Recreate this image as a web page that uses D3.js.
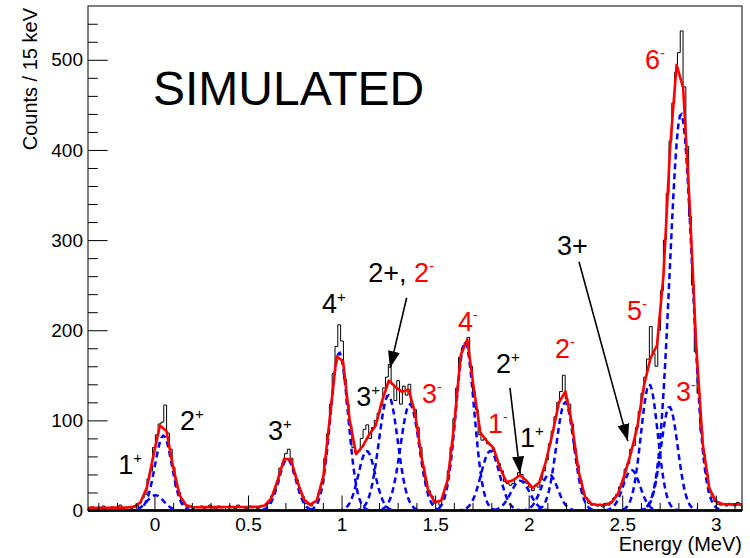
<!DOCTYPE html>
<html>
<head>
<meta charset="utf-8">
<script src="https://cdn.jsdelivr.net/npm/d3@7"></script>
<style>
  body { margin: 0; background: #fff; }
  text { font-family: "Liberation Sans", Arial, Helvetica, sans-serif; }
</style>
</head>
<body>
<svg id="chart" width="750" height="558"></svg>
<script>
// Spectrum: counts per 15 keV bin, first bin starting at -0.355 MeV
const binStart = -0.355;
const binWidth = 0.015;
const counts = [
  2,4,1,3,2,5,3,1,4,2,3,6,2,3,
  4,2,5,4,9,14,18,35,44,70,84,96,98,117,86,68,48,26,20,9,7,3,5,
  2,4,3,5,2,4,6,3,2,5,3,4,1,5,3,2,6,4,3,2,5,3,4,2,
  4,5,6,8,16,21,30,47,52,63,68,58,42,34,20,16,8,7,
  5,9,10,20,30,58,85,118,152,182,206,188,146,118,94,70,64,66,80,90,95,
  80,92,100,108,116,136,148,162,140,122,144,118,138,128,140,118,112,92,70,48,32,22,16,8,10,6,
  14,26,44,70,102,136,170,180,186,192,160,132,112,84,78,80,74,72,66,58,52,44,32,30,28,30,36,42,40,32,30,26,22,28,
  26,34,44,56,74,88,104,120,132,150,124,118,96,68,50,34,18,14,8,6,7,5,7,4,8,6,10,14,18,26,30,46,52,68,72,92,110,130,148,168,
  204,174,160,200,244,300,352,410,452,486,508,532,470,404,326,250,176,130,88,62,40,20,14,10,7,6,
  7,5,8,6,5,9,6
];

// Fitted peak components: centroid (MeV), height (counts), sigma (MeV)
const peakCentroids = [0.005, 0.048, 0.71, 0.988, 1.135, 1.25, 1.365, 1.66, 1.795, 1.955, 2.11, 2.195, 2.55, 2.645, 2.752, 2.814];
const peakHeights   = [17, 83, 57, 175, 66, 128, 118, 187, 66, 33, 40, 120, 45, 140, 115, 440];
const peakSigmas    = [0.045, 0.045, 0.045, 0.047, 0.045, 0.05, 0.05, 0.048, 0.05, 0.05, 0.045, 0.047, 0.045, 0.045, 0.045, 0.06];
// Linear background of the total fit: a + b*E
const background = [3.4, 1.1];

const xTickValues = [0, 0.5, 1, 1.5, 2, 2.5, 3];
const yTickValues = [0, 100, 200, 300, 400, 500];

// Spin-parity labels: [text, colour, superscript?] pieces, anchored at (E, counts)
const stateLabels = [
  { E: -0.193, c: 40,  parts: [["1", "k"], ["+", "k", 1]] },
  { E: 0.137,  c: 89,  parts: [["2", "k"], ["+", "k", 1]] },
  { E: 0.607,  c: 78,  parts: [["3", "k"], ["+", "k", 1]] },
  { E: 0.896,  c: 219, parts: [["4", "k"], ["+", "k", 1]] },
  { E: 1.078,  c: 116, parts: [["3", "k"], ["+", "k", 1]] },
  { E: 1.142,  c: 254, parts: [["2+, ", "k"], ["2", "r"], ["-", "r", 1]] },
  { E: 1.430,  c: 119, parts: [["3", "r"], ["-", "r", 1]] },
  { E: 1.622,  c: 199, parts: [["4", "r"], ["-", "r", 1]] },
  { E: 1.783,  c: 86,  parts: [["1", "r"], ["-", "r", 1]] },
  { E: 1.825,  c: 153, parts: [["2", "k"], ["+", "k", 1]] },
  { E: 1.954,  c: 71,  parts: [["1", "k"], ["+", "k", 1]] },
  { E: 2.140,  c: 169, parts: [["2", "r"], ["-", "r", 1]] },
  { E: 2.151,  c: 284, parts: [["3+", "k"]] },
  { E: 2.525,  c: 211, parts: [["5", "r"], ["-", "r", 1]] },
  { E: 2.787,  c: 122, parts: [["3", "r"], ["-", "r", 1]] },
  { E: 2.621,  c: 490, parts: [["6", "r"], ["-", "r", 1]] }
];

// Pointer arrows: from (E0, c0) to tip (E1, c1)
const arrows = [
  [1.348, 236, 1.259, 158],
  [1.900, 136, 1.954, 41],
  [2.269, 276, 2.530, 77]
];

const colours = { k: "#000000", r: "#ff0000" };

const svg = d3.select("#chart");
const x = d3.scaleLinear().domain([binStart, binStart + binWidth * 233]).range([88, 742]);
const y = d3.scaleLinear().domain([0, 559.7]).range([510.5, 6]);
const [x0, x1] = x.domain();

// Histogram as a stepped outline
const histPts = [[x(x0), y(0)]];
counts.forEach((v, i) => {
  const lo = x0 + i * binWidth, hi = lo + binWidth;
  histPts.push([x(lo), y(v)], [x(hi), y(v)]);
});
histPts.push([x(x1), y(0)]);
svg.append("path")
  .attr("d", d3.line()(histPts))
  .attr("fill", "none").attr("stroke", "#000").attr("stroke-width", 1);

const gauss = (E, k) => peakHeights[k] * Math.exp(-((E - peakCentroids[k]) ** 2) / (2 * peakSigmas[k] ** 2));
const total = E => background[0] + background[1] * E + peakCentroids.reduce((s, _, k) => s + gauss(E, k), 0);

// Individual components, dashed blue
const fine = d3.range(0, 401).map(i => x0 + (x1 - x0) * i / 400);
peakCentroids.forEach((_, k) => {
  svg.append("path")
    .attr("d", d3.line().x(E => x(E)).y(E => y(gauss(E, k)))(fine))
    .attr("fill", "none").attr("stroke", "#0000ff").attr("stroke-width", 2.5)
    .attr("stroke-dasharray", "6,4").attr("stroke-dashoffset", k * 2.7);
});

// Total fit, red
const coarse = d3.range(0, 101).map(i => x0 + (x1 - x0) * i / 100);
svg.append("path")
  .attr("d", d3.line().x(E => x(E)).y(E => y(total(E)))(coarse))
  .attr("fill", "none").attr("stroke", "#ff0000").attr("stroke-width", 2.6)
  .attr("stroke-linejoin", "round");

// Axes with inward ticks
svg.append("g").attr("transform", "translate(88,0)")
  .call(d3.axisLeft(y).tickValues(yTickValues).tickSizeInner(-19.6).tickSizeOuter(0).tickPadding(5).tickFormat(d3.format("d")));
svg.append("g").attr("transform", "translate(88,0)")
  .call(d3.axisLeft(y).tickValues(d3.range(20, 559, 20).filter(v => v % 100)).tickSizeInner(-9.8).tickSizeOuter(0).tickFormat(""));
svg.append("g").attr("transform", "translate(0,510.5)")
  .call(d3.axisBottom(x).tickValues(xTickValues).tickSizeInner(-15).tickSizeOuter(0).tickPadding(7).tickFormat(d => String(d)));
svg.append("g").attr("transform", "translate(0,510.5)")
  .call(d3.axisBottom(x).tickValues(d3.range(-3, 32).map(v => v / 10).filter(v => Math.round(v * 10) % 5)).tickSizeInner(-7.5).tickSizeOuter(0).tickFormat(""));
svg.selectAll(".domain").remove();
svg.selectAll(".tick line").attr("stroke", "#000").attr("stroke-width", 1);
svg.selectAll(".tick text").attr("font-size", 19).attr("fill", "#000")
  .attr("font-family", '"Liberation Sans", Arial, Helvetica, sans-serif');

// Frame
svg.append("rect").attr("x", 88).attr("y", 6).attr("width", 654).attr("height", 504.5)
  .attr("fill", "none").attr("stroke", "#000").attr("stroke-width", 1);

// Axis titles
svg.append("text").attr("transform", "translate(37,8) rotate(-90)")
  .attr("text-anchor", "end").attr("font-size", 20).text("Counts / 15 keV");
svg.append("text").attr("x", 742).attr("y", 551)
  .attr("text-anchor", "end").attr("font-size", 20).text("Energy (MeV)");

svg.append("text").attr("x", 153).attr("y", 105).attr("font-size", 48).text("SIMULATED");

// Arrows
svg.append("defs").append("marker")
  .attr("id", "head").attr("markerUnits", "userSpaceOnUse")
  .attr("markerWidth", 18).attr("markerHeight", 14)
  .attr("viewBox", "0 -7 18 14").attr("refX", 17).attr("refY", 0)
  .attr("orient", "auto")
  .append("path").attr("d", "M0,-6L17,0L0,6Z").attr("fill", "#000");
arrows.forEach(a => {
  svg.append("line")
    .attr("x1", x(a[0])).attr("y1", y(a[1])).attr("x2", x(a[2])).attr("y2", y(a[3]))
    .attr("stroke", "#000").attr("stroke-width", 1.6).attr("marker-end", "url(#head)");
});

// Labels
stateLabels.forEach(l => {
  const t = svg.append("text").attr("x", x(l.E)).attr("y", y(l.c)).attr("font-size", 27);
  l.parts.forEach((p, i) => {
    const prevSup = i > 0 && l.parts[i - 1][2];
    const s = t.append("tspan").attr("fill", colours[p[1]]).text(p[0]);
    if (p[2]) s.attr("font-size", 15).attr("dy", -11);
    else if (prevSup) s.attr("dy", 11);
  });
});
</script>
</body>
</html>
